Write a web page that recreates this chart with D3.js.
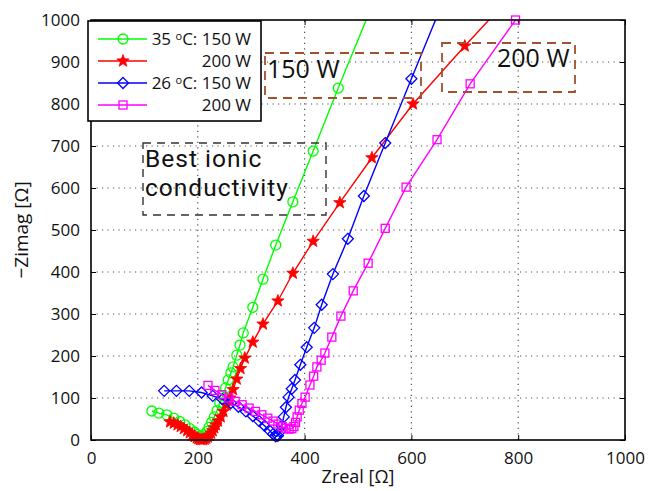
<!DOCTYPE html>
<html>
<head>
<meta charset="utf-8">
<script src="https://cdn.jsdelivr.net/npm/d3@7"></script>
<style>
  body { margin: 0; background: #fff; }
  svg { display: block; font-family: "Open Sans", sans-serif; }
</style>
</head>
<body>
<div id="chart"></div>
<script>
const width = 651;
const height = 491;
const margin = { top: 20, right: 26, bottom: 51, left: 91 };

// tick labels
const xTicks = [0, 200, 400, 600, 800, 1000];
const yTicks = [0, 100, 200, 300, 400, 500, 600, 700, 800, 900, 1000];

// 35 C, 150 W (green circles)
const g150x = [114, 127, 142, 155, 166, 176, 185, 193, 199, 204, 209, 213, 217, 221, 226, 231, 236, 241, 247, 252, 257, 262, 266, 273, 279, 285, 303, 322, 346, 378, 416, 463, 525];
const g150y = [69, 64, 60, 52, 44, 36, 27, 19, 13, 9, 8, 12, 20, 30, 42, 55, 70, 88, 105, 124, 143, 160, 174, 202, 226, 255, 316, 383, 464, 567, 688, 838, 1030];

// 35 C, 200 W (red stars)
const r200x = [148, 155, 162, 168, 174, 180, 185, 190, 194, 198, 201, 204, 207, 210, 213, 216, 219, 222, 225, 228, 231, 234, 238, 243, 248, 254, 260, 266, 273, 280, 288, 303, 322, 350, 378, 416, 466, 526, 603, 700, 785];
const r200y = [43, 40, 36, 32, 27, 22, 17, 12, 8, 5, 3, 1, 1, 1, 2, 4, 7, 11, 16, 22, 29, 36, 45, 55, 68, 83, 100, 120, 145, 170, 195, 233, 276, 331, 397, 473, 565, 672, 800, 938, 1055];

// 26 C, 150 W (blue diamonds)
const b150x = [137, 160, 184, 207, 228, 246, 262, 276, 290, 303, 315, 325, 334, 341, 346, 350, 354, 357, 361, 365, 370, 376, 382, 392, 404, 418, 432, 453, 481, 511, 551, 600, 650];
const b150y = [117, 117, 117, 113, 105, 97, 88, 79, 68, 57, 45, 34, 23, 14, 9, 10, 20, 34, 55, 78, 102, 122, 143, 179, 221, 267, 322, 395, 479, 581, 707, 860, 1015];

// 26 C, 200 W (magenta squares)
const m200x = [219, 232, 245, 258, 270, 283, 296, 308, 320, 331, 341, 350, 358, 365, 371, 376, 380, 383, 386, 390, 395, 401, 410, 417, 423, 431, 438, 451, 468, 491, 519, 551, 590, 648, 710, 795];
const m200y = [130, 118, 108, 100, 92, 84, 76, 68, 60, 52, 45, 38, 32, 28, 26, 27, 32, 42, 55, 71, 87, 102, 131, 152, 174, 190, 207, 245, 295, 355, 421, 504, 602, 715, 848, 1000];

const seriesNames = ["35 \u00baC: 150 W", "200 W", "26 \u00baC: 150 W", "200 W"];

const svg = d3.select("#chart")
  .append("svg")
  .attr("width", width)
  .attr("height", height);

const x = d3.scaleLinear().domain([0, 1000]).range([margin.left, width - margin.right]);
const y = d3.scaleLinear().domain([0, 1000]).range([height - margin.bottom, margin.top]);

svg.append("defs").append("clipPath").attr("id", "plotclip")
  .append("rect")
  .attr("x", x(0)).attr("y", y(1000))
  .attr("width", x(1000) - x(0)).attr("height", y(0) - y(1000));

// grid
const grid = svg.append("g").attr("class", "grid");
grid.selectAll("line.vx")
  .data(xTicks.slice(1, -1))
  .enter().append("line")
  .attr("x1", d => x(d)).attr("x2", d => x(d))
  .attr("y1", y(0)).attr("y2", y(1000))
  .attr("stroke", "#555").attr("stroke-width", 1.2)
  .attr("stroke-dasharray", "1.2,4.3");
grid.selectAll("line.hy")
  .data(yTicks.slice(1, -1))
  .enter().append("line")
  .attr("y1", d => y(d)).attr("y2", d => y(d))
  .attr("x1", x(0)).attr("x2", x(1000))
  .attr("stroke", "#555").attr("stroke-width", 1.2)
  .attr("stroke-dasharray", "1.2,4.3");

// axes (ticks inside)
const fmt = d3.format("d");
const xAxis = svg.append("g")
  .attr("transform", `translate(0,${y(0)})`)
  .call(d3.axisBottom(x).tickValues(xTicks).tickFormat(fmt).tickSize(-5).tickPadding(10));
const yAxis = svg.append("g")
  .attr("transform", `translate(${x(0)},0)`)
  .call(d3.axisLeft(y).tickValues(yTicks).tickFormat(fmt).tickSize(-5).tickPadding(11));
svg.append("g")
  .attr("transform", `translate(0,${y(1000)})`)
  .call(d3.axisTop(x).tickValues(xTicks).tickSize(-5).tickFormat(""));
svg.append("g")
  .attr("transform", `translate(${x(1000)},0)`)
  .call(d3.axisRight(y).tickValues(yTicks).tickSize(-5).tickFormat(""));

svg.selectAll(".domain").remove();
svg.selectAll(".tick line").attr("stroke", "#000").attr("stroke-width", 1);
[xAxis, yAxis].forEach(a => a.selectAll("text")
  .style("font-family", "'Open Sans', sans-serif")
  .style("font-size", "17px")
  .attr("fill", "#111"));
xAxis.selectAll(".tick text").attr("dy", "0.85em");

// series
const series = [
  { xs: g150x, ys: g150y, color: "#00ff00", marker: "circle" },
  { xs: r200x, ys: r200y, color: "#ff0000", marker: "star" },
  { xs: b150x, ys: b150y, color: "#0000ff", marker: "diamond" },
  { xs: m200x, ys: m200y, color: "#ff00ff", marker: "square" }
];

const starPath = (() => {
  const ro = 6.5, ri = 2.7;
  let p = "";
  for (let i = 0; i < 10; i++) {
    const r = i % 2 === 0 ? ro : ri;
    const a = -Math.PI / 2 + i * Math.PI / 5;
    p += (i === 0 ? "M" : "L") + (r * Math.cos(a)).toFixed(2) + "," + (r * Math.sin(a)).toFixed(2);
  }
  return p + "Z";
})();

function drawMarker(sel, type, color) {
  if (type === "circle") {
    sel.append("circle").attr("r", 5).attr("fill", "none").attr("stroke", color).attr("stroke-width", 1.3);
  } else if (type === "star") {
    sel.append("path").attr("d", starPath).attr("fill", color).attr("stroke", color).attr("stroke-width", 0.8);
  } else if (type === "diamond") {
    sel.append("path").attr("d", "M0,-5.5L5.5,0L0,5.5L-5.5,0Z").attr("fill", "none").attr("stroke", color).attr("stroke-width", 1.3);
  } else {
    sel.append("rect").attr("x", -4).attr("y", -4).attr("width", 8).attr("height", 8)
      .attr("fill", "none").attr("stroke", color).attr("stroke-width", 1.3);
  }
}

const line = d3.line().x(d => x(d[0])).y(d => y(d[1]));
const plot = svg.append("g");

series.forEach(s => {
  const pts = s.xs.map((v, i) => [v, s.ys[i]]);
  plot.append("path")
    .datum(pts)
    .attr("clip-path", "url(#plotclip)")
    .attr("fill", "none")
    .attr("stroke", s.color)
    .attr("stroke-width", 1.4)
    .attr("d", line);
  plot.selectAll(null)
    .data(pts.filter(p => p[1] <= 1000 && p[0] <= 1000))
    .enter().append("g")
    .attr("transform", p => `translate(${x(p[0])},${y(p[1])})`)
    .each(function () { drawMarker(d3.select(this), s.marker, s.color); });
});

// frame
svg.append("rect")
  .attr("x", x(0)).attr("y", y(1000))
  .attr("width", x(1000) - x(0)).attr("height", y(0) - y(1000))
  .attr("fill", "none").attr("stroke", "#000").attr("stroke-width", 1.6);

// axis titles
svg.append("text")
  .attr("x", (x(0) + x(1000)) / 2).attr("y", 483)
  .attr("text-anchor", "middle")
  .style("font-size", "18px").attr("fill", "#111")
  .text("Zreal [\u03a9]");
svg.append("text")
  .attr("transform", `translate(28,${(y(0) + y(1000)) / 2}) rotate(-90)`)
  .attr("text-anchor", "middle")
  .style("font-size", "19px").attr("fill", "#111")
  .text("\u2212Zimag [\u03a9]");

// legend
const legend = svg.append("g").attr("id", "legend");
legend.append("rect")
  .attr("x", 88).attr("y", 21).attr("width", 173).attr("height", 100)
  .attr("fill", "#fff").attr("stroke", "#000").attr("stroke-width", 1.6);
const items = legend.selectAll("g.item")
  .data(series)
  .enter().append("g")
  .attr("transform", (d, i) => `translate(0,${39 + i * 22})`);
items.append("line")
  .attr("x1", 98).attr("x2", 147).attr("y1", 0).attr("y2", 0)
  .attr("stroke", d => d.color).attr("stroke-width", 1.4);
items.append("g")
  .attr("transform", "translate(123,0)")
  .each(function (d) { drawMarker(d3.select(this), d.marker, d.color); });
items.append("text")
  .attr("x", 251).attr("y", 0).attr("dy", "0.36em")
  .attr("text-anchor", "end")
  .style("font-size", "17px").attr("fill", "#111")
  .each(function (d, i) {
    const t = d3.select(this);
    const name = seriesNames[i];
    if (name.includes("\u00ba")) {
      const parts = name.split("\u00ba");
      t.append("tspan").text(parts[0]);
      t.append("tspan").text("o").style("font-size", "11px").attr("dy", "-5");
      t.append("tspan").text(parts[1]).attr("dy", "5");
    } else {
      t.text(name);
    }
  });

// annotations
const notes = svg.append("g");
notes.append("rect")
  .attr("x", 265).attr("y", 53).attr("width", 156).attr("height", 45)
  .attr("fill", "none").attr("stroke", "#a0522d").attr("stroke-width", 1.8)
  .attr("stroke-dasharray", "9,6");
notes.append("text")
  .attr("x", 267).attr("y", 78)
  .style("font-size", "25px").attr("fill", "#111")
  .text("150 W");
notes.append("rect")
  .attr("x", 442).attr("y", 43).attr("width", 133).attr("height", 49)
  .attr("fill", "none").attr("stroke", "#a0522d").attr("stroke-width", 1.8)
  .attr("stroke-dasharray", "9,6");
notes.append("text")
  .attr("x", 497).attr("y", 67)
  .style("font-size", "25px").attr("fill", "#111")
  .text("200 W");
notes.append("rect")
  .attr("x", 143).attr("y", 143).attr("width", 183).attr("height", 72)
  .attr("fill", "none").attr("stroke", "#333").attr("stroke-width", 1.4)
  .attr("stroke-dasharray", "8,6");
const best = notes.append("text")
  .attr("x", 145).attr("y", 167)
  .style("font-family", "Roboto, sans-serif")
  .style("font-size", "24.5px")
  .style("letter-spacing", "1px")
  .attr("fill", "#111");
best.append("tspan").attr("x", 145).text("Best ionic");
best.append("tspan").attr("x", 145).attr("dy", 29).text("conductivity");
</script>
</body>
</html>
